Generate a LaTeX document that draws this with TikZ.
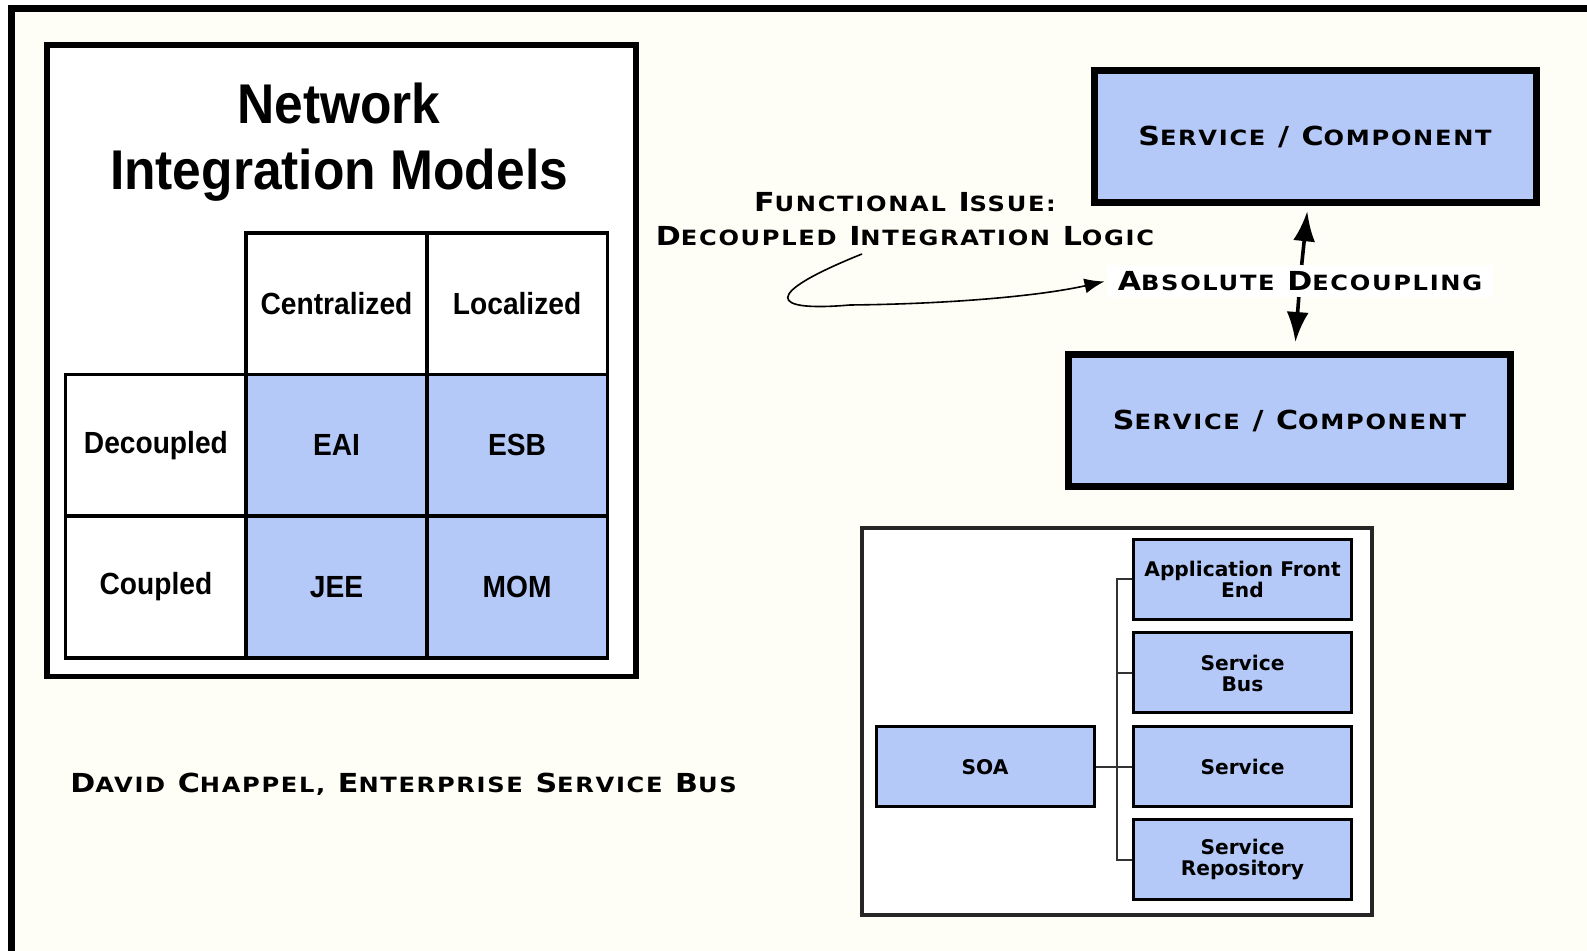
\documentclass[tikz,border=0pt]{standalone}
\usepackage{fontspec}
\setmainfont{Liberation Sans}
\newfontfamily\narrowsans[FakeStretch=0.92]{Liberation Sans}
\newfontfamily\platefont[FakeStretch=1.15,LetterSpace=8]{DejaVu Sans}
\newfontfamily\boxfont{DejaVu Sans}
\newcommand{\smc}[1]{{\fontsize{10.5}{12}\selectfont #1}}
\definecolor{paper}{RGB}{254,254,246}
\definecolor{soablue}{RGB}{181,201,248}
\usetikzlibrary{arrows.meta}

\begin{document}
\begin{tikzpicture}[x=0.5pt, y=-0.5pt,
    cell/.style={draw, line width=1.8pt, minimum width=90.3pt, minimum height=70.85pt, inner sep=0pt,
        font=\narrowsans\bfseries\fontsize{15.3}{17}\selectfont},
    bluecell/.style={cell, fill=soablue},
    compbox/.style={draw, line width=3.5pt, fill=soablue, minimum width=221pt, minimum height=66pt, inner sep=0pt,
        font=\platefont\bfseries\fontsize{13.1}{15}\selectfont},
    platetext/.style={inner sep=0pt, align=center, font=\platefont\bfseries\fontsize{13.1}{17}\selectfont},
    soabox/.style={draw, line width=1.5pt, fill=soablue, minimum width=109pt, minimum height=40pt, inner sep=0pt,
        align=center, font=\boxfont\bfseries\fontsize{10.1}{10.5}\selectfont},
    panel/.style={draw, fill=white, inner sep=0pt},
    treeline/.style={line width=1pt, black!80}]

    \useasboundingbox (0,0) rectangle (1587,951);
    \begin{scope}
        \clip (0,0) rectangle (1587,951);
        \fill[white] (0,0) rectangle (1587,951);
        \draw[line width=3.5pt, fill=paper] (11.5,8.5) rectangle (1620,980);
    \end{scope}

    % integration models table
    \node[panel, line width=2.8pt, minimum width=294.5pt, minimum height=315.75pt] (nimpanel) at (341.5,360.75) {};
    \node[align=center, font=\narrowsans\bfseries\fontsize{28}{33}\selectfont] (nimtitle) at (339,142)
        {Network\\Integration Models};

    \node[cell] (centr) at (336.5,303.6) {Centralized};
    \node[cell] (local) at (517.1,303.6) {Localized};
    \node[cell] (decoup) at (155.9,445.3) {Decoupled};
    \node[bluecell] (eai) at (336.5,445.3) {EAI};
    \node[bluecell] (esb) at (517.1,445.3) {ESB};
    \node[cell] (coup) at (155.9,587) {Coupled};
    \node[bluecell] (jee) at (336.5,587) {JEE};
    \node[bluecell] (mom) at (517.1,587) {MOM};

    \node[platetext, anchor=west] (credit) at (70,784)
        {D\smc{AVID} C\smc{HAPPEL,} E\smc{NTERPRISE} S\smc{ERVICE} B\smc{US}};

    % decoupling
    \node[compbox] (comp1) at (1315,136.75) {S\smc{ERVICE} / C\smc{OMPONENT}};
    \node[compbox] (comp2) at (1289.5,420.5) {S\smc{ERVICE} / C\smc{OMPONENT}};
    \node[platetext, fill=white, inner xsep=5.5pt, inner ysep=3pt] (absdec) at (1300,281)
        {A\smc{BSOLUTE} D\smc{ECOUPLING}};
    \draw[-{Latex[length=15pt,width=11pt]}, line width=1.8pt, shorten >=2.5pt] (absdec) -- (comp1);
    \draw[-{Latex[length=15pt,width=11pt]}, line width=1.8pt, shorten >=4.5pt] (absdec) -- (comp2);

    \node[platetext] (funcissue) at (905,219)
        {F\smc{UNCTIONAL} I\smc{SSUE:}\\D\smc{ECOUPLED} I\smc{NTEGRATION} L\smc{OGIC}};
    \coordinate (curvestart) at (862,254);
    \draw[-{Latex[length=10pt,width=7.5pt]}, line width=0.8pt, shorten >=1pt]
        (curvestart) .. controls (760,295) and (770,312) .. (850,305)
        .. controls (950,304) and (1040,296) .. (absdec.west);

    % soa tree
    \node[panel, draw=black!85, line width=1.8pt, minimum width=255pt, minimum height=193.5pt] (soapanel) at (1117,721.5) {};
    \node[soabox] (soa) at (985,767) {SOA};
    \node[soabox] (afe) at (1242.5,579.5) {Application Front\\End};
    \node[soabox] (bus) at (1242.5,673) {Service\\Bus};
    \node[soabox] (svc) at (1242.5,767) {Service};
    \node[soabox] (repo) at (1242.5,860) {Service\\Repository};
    \coordinate (trunk) at (1117,767);
    \draw[treeline] (afe.west) -| (trunk) |- (repo.west);
    \draw[treeline] (bus.west) -- (bus.west -| trunk);
    \draw[treeline] (soa.east) -- (svc.west);
\end{tikzpicture}
\end{document}
